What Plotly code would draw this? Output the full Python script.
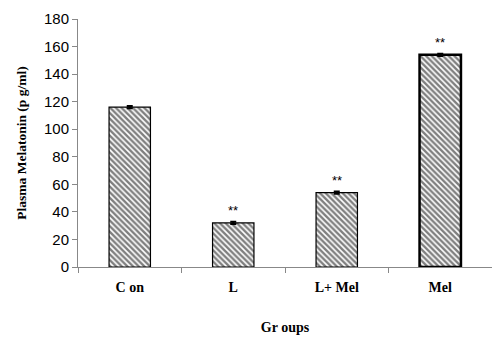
import plotly.graph_objects as go

groups = ["C on", "L", "L+ Mel", "Mel"]
values = [116, 32, 54, 154]
errors = [0.8, 0.8, 0.8, 0.8]
signif = ["", "**", "**", "**"]
outline_widths = [1.2, 1.2, 1.2, 2.5]

fig = go.Figure()
fig.add_trace(go.Bar(
    x=groups, y=values,
    width=0.4,
    marker=dict(
        color="white",
        line=dict(color="black", width=outline_widths),
        pattern=dict(shape="\\", fgcolor="black", bgcolor="white", size=4, solidity=0.6),
    ),
    error_y=dict(type="data", array=errors, color="black", thickness=2, width=3),
    showlegend=False,
))

for g, v, e, s in zip(groups, values, errors, signif):
    if s:
        fig.add_annotation(x=g, y=v + e, text=s, showarrow=False, yanchor="bottom", yshift=2,
                           font=dict(family="Arial, Liberation Sans", size=13, color="black"))

# page body has an 8px default margin, so the figure is sized/offset to compensate
fig.update_layout(
    width=492, height=331,
    margin=dict(l=70, r=8, t=11, b=72),
    paper_bgcolor="white", plot_bgcolor="white",
    bargap=0.6,
)
fig.update_xaxes(
    type="category", tickson="boundaries", ticks="outside", ticklen=5, tickcolor="#888",
    showline=True, linecolor="#888", linewidth=1, showgrid=False, automargin=False,
    ticklabelstandoff=7,
    tickfont=dict(family="Liberation Serif, Times New Roman", size=14, color="black", weight="bold"),
    title=dict(text="<b>Gr oups</b>", font=dict(family="Liberation Serif, Times New Roman", size=14, color="black"), standoff=28),
)
fig.update_yaxes(
    range=[0, 180], dtick=20, ticks="outside", ticklen=5, tickcolor="#888",
    showline=True, linecolor="#888", linewidth=1, showgrid=False, zeroline=False, automargin=False,
    tickfont=dict(family="Arial, Liberation Sans", size=15, color="black"),
    title=dict(text="<b>Plasma Melatonin (p g/ml)</b>", font=dict(family="Liberation Serif, Times New Roman", size=13.5, color="black"), standoff=14),
)

fig.write_html("out.html")
